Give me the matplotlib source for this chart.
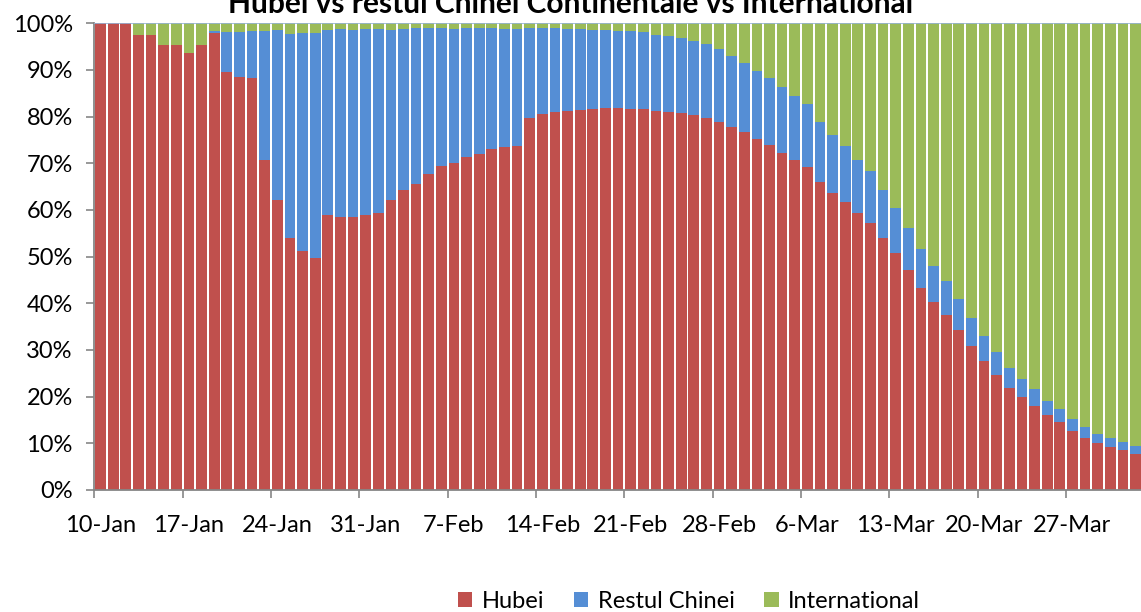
import matplotlib
matplotlib.use("Agg")
import matplotlib.pyplot as plt
import numpy as np
import pandas as pd
from matplotlib.patches import Patch

plt.rcParams['font.family'] = ['Lato', 'DejaVu Sans']

dates = pd.date_range('2020-01-10', '2020-04-01', freq='D')

hubei = [100, 100, 100, 97.5, 97.5, 95.3, 95.3, 93.6, 95.3, 97.9,
         89.6, 88.5, 88.3, 70.8, 62.2, 53.9, 51.2, 49.7, 59.0, 58.5,
         58.5, 58.9, 59.4, 62.2, 64.2, 65.6, 67.7, 69.5, 70.1, 71.4,
         72.1, 73.0, 73.5, 73.8, 79.8, 80.6, 81.0, 81.2, 81.5, 81.7,
         81.9, 81.9, 81.6, 81.6, 81.3, 81.0, 80.7, 80.4, 79.8, 78.9,
         77.8, 76.7, 75.2, 73.9, 72.2, 70.7, 69.3, 66.1, 63.7, 61.8,
         59.4, 57.2, 54.0, 50.8, 47.2, 43.3, 40.2, 37.5, 34.3, 30.9,
         27.7, 24.7, 21.8, 19.9, 18.0, 16.0, 14.5, 12.7, 11.2, 10.1,
         9.3, 8.6, 7.8]

restul_chinei = [0, 0, 0, 0, 0, 0, 0, 0, 0, 0.4,
                 8.5, 9.7, 10.0, 27.6, 36.4, 43.9, 46.7, 48.3, 39.6, 40.2,
                 40.1, 39.9, 39.3, 36.4, 34.6, 33.3, 31.2, 29.4, 28.7, 27.5,
                 26.8, 25.9, 25.3, 25.0, 19.1, 18.4, 18.0, 17.6, 17.3, 16.9,
                 16.7, 16.5, 16.7, 16.5, 16.3, 16.3, 16.2, 15.8, 15.8, 15.5,
                 15.2, 14.9, 14.6, 14.4, 14.1, 13.7, 13.4, 12.8, 12.3, 11.9,
                 11.3, 11.1, 10.3, 9.7, 9.0, 8.4, 7.8, 7.3, 6.7, 6.0,
                 5.4, 4.9, 4.3, 3.9, 3.6, 3.1, 2.8, 2.5, 2.3, 2.0,
                 1.9, 1.7, 1.6]

international = [0, 0, 0, 2.5, 2.5, 4.7, 4.7, 6.4, 4.7, 1.7,
                 1.9, 1.8, 1.7, 1.6, 1.4, 2.2, 2.1, 2.0, 1.4, 1.3,
                 1.4, 1.2, 1.3, 1.4, 1.2, 1.1, 1.1, 1.1, 1.2, 1.1,
                 1.1, 1.1, 1.2, 1.2, 1.1, 1.0, 1.0, 1.2, 1.2, 1.4,
                 1.4, 1.6, 1.7, 1.9, 2.4, 2.7, 3.1, 3.8, 4.4, 5.6,
                 7.0, 8.4, 10.2, 11.7, 13.7, 15.6, 17.3, 21.1, 24.0, 26.3,
                 29.3, 31.7, 35.7, 39.5, 43.8, 48.3, 52.0, 55.2, 59.0, 63.1,
                 66.9, 70.4, 73.9, 76.2, 78.4, 80.9, 82.7, 84.8, 86.5, 87.9,
                 88.8, 89.7, 90.6]

tick_labels = ['10-Jan', '17-Jan', '24-Jan', '31-Jan', '7-Feb', '14-Feb',
               '21-Feb', '28-Feb', '6-Mar', '13-Mar', '20-Mar', '27-Mar']
series_names = ['Hubei', 'Restul Chinei', 'International']
colors = ['#C0504D', '#558ED5', '#9BBB59']

h = np.array(hubei, float)
r = np.array(restul_chinei, float)
g = np.array(international, float)
tot = h + r + g
shares = [h / tot * 100, r / tot * 100, g / tot * 100]

W, H = 1141, 612
fig = plt.figure(figsize=(W / 100, H / 100), dpi=100)
ax = fig.add_axes([94.3 / W, (H - 490) / H, (1141.8 - 94.3) / W, (490 - 23.3) / H])

n = len(dates)
x = np.arange(n)
bottom = np.zeros(n)
for s, c in zip(shares, colors):
    ax.bar(x, s, width=0.85, bottom=bottom, color=c, linewidth=0)
    bottom = bottom + s

ax.axhline(100, color='#95B3D7', lw=1.2, zorder=3)
ax.set_xlim(-0.5, n - 0.5)
ax.set_ylim(0, 100)

yt = np.arange(0, 101, 10)
ax.set_yticks(yt)
ax.set_yticklabels([f'{v}%' for v in yt])

pos = np.arange(0, n, 7)
ax.set_xticks(pos - 0.5)
ax.set_xticklabels([])
ax.set_xticks(pos[:len(tick_labels)], minor=True)
ax.set_xticklabels(tick_labels, minor=True)

for sp in ['top', 'right']:
    ax.spines[sp].set_visible(False)
for sp in ['left', 'bottom']:
    ax.spines[sp].set_color('#868686')
    ax.spines[sp].set_linewidth(1.3)

ax.tick_params(axis='y', which='major', length=5.5, width=1.2, color='#868686',
               labelsize=17, pad=10, labelcolor='black')
ax.tick_params(axis='x', which='major', length=5.5, width=1.2, color='#868686')
ax.tick_params(axis='x', which='minor', length=0, labelsize=17, pad=18,
               labelcolor='black')

fig.text(0.5, 1 - 13 / H, 'Hubei vs restul Chinei Continentale vs International',
         ha='center', va='baseline', fontsize=21.5, fontweight='bold')

handles = [Patch(facecolor=c, edgecolor='none') for c in colors]
fig.legend(handles, series_names, loc='center', ncol=3, frameon=False,
           bbox_to_anchor=(689 / W, 1 - 601 / H), fontsize=17,
           handlelength=0.62, handleheight=0.62, handletextpad=0.4,
           columnspacing=1.25)

fig.savefig('out.png', dpi=100)
